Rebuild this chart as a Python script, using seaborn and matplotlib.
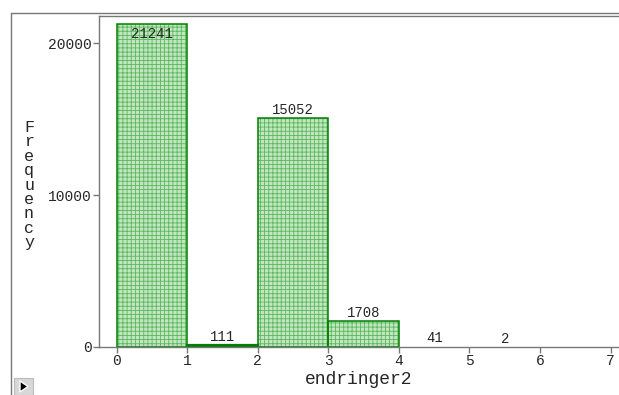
import numpy as np
import pandas as pd
import seaborn as sns
import matplotlib
matplotlib.use("Agg")
from matplotlib import pyplot as plt
from matplotlib.lines import Line2D
from matplotlib.patches import Rectangle, Polygon

# histogram of endringer2 (bin counts)
bin_edges = [0, 1, 2, 3, 4, 5, 6, 7]
bin_counts = [21241, 111, 15052, 1708, 41, 2, 0]
x_ticks = [0, 1, 2, 3, 4, 5, 6, 7]
y_ticks = [0, 10000, 20000]

df = pd.DataFrame({
    "endringer2": [lo + 0.5 for lo in bin_edges[:-1]],
    "count": bin_counts,
})

sns.set_style("white")
plt.rcParams['font.family'] = ['Liberation Mono', 'DejaVu Sans Mono']
plt.rcParams['hatch.linewidth'] = 0.6

fig = plt.figure(figsize=(6.19, 3.95), dpi=100)
ax = fig.add_axes([99/619, 1 - 347/395, 1 - 99/619, (347 - 16)/395])

green = "#008000"
# dotted green fill (hatch drawn in a light green)
sns.histplot(data=df, x="endringer2", weights="count", bins=bin_edges,
             ax=ax, color="#c2e6c2", edgecolor="#5cb85c", linewidth=0,
             alpha=1, hatch="++++")
n_fill = len(ax.patches)
for p in ax.patches[:n_fill]:
    p.set_facecolor("#c2e6c2")
    p.set_edgecolor("#5cb85c")
    if p.get_height() < 100:
        p.set_visible(False)

# dark green outlines on top
sns.histplot(data=df, x="endringer2", weights="count", bins=bin_edges,
             ax=ax, fill=False, color=green, linewidth=1.1)
for p in ax.patches[n_fill:]:
    p.set_edgecolor(green)
    # bars under ~1px vanish into the axis line
    if p.get_height() < 100:
        p.set_visible(False)
    elif p.get_height() < 500:
        p.set_linewidth(1.6)

ax.set_xlim(-0.25, 7.12)
ax.set_ylim(0, 21790)

# count labels on top of bars
for lo, c in zip(bin_edges[:-1], bin_counts):
    if c == 0:
        continue
    if c > 21000:
        ax.text(lo + 0.5, c - 150, str(c), ha="center", va="top", fontsize=10)
    else:
        ax.text(lo + 0.5, c + 80, str(c), ha="center", va="bottom", fontsize=10)

ax.set_xticks(x_ticks)
ax.set_yticks(y_ticks)
ax.tick_params(axis="both", direction="out", length=4, width=1, color="#777777",
               labelsize=10.5, pad=1, bottom=True, left=True)
for side in ["left", "top", "bottom"]:
    ax.spines[side].set_color("#777777")
    ax.spines[side].set_linewidth(1)
ax.spines["right"].set_visible(False)

ax.set_xlabel("endringer2", fontsize=13, labelpad=2)
ax.set_ylabel("")
fig.text(29/619, 1 - 185/395, "\n".join("Frequency"), ha="center", va="center",
         fontsize=12, linespacing=0.95)

# outer panel frame
fig.add_artist(Line2D([11/619, 11/619], [0, 1 - 13/395], color="#777777", lw=1))
fig.add_artist(Line2D([11/619, 1], [1 - 13/395, 1 - 13/395], color="#777777", lw=1))

# small play button
fig.add_artist(Rectangle((14/619, 0), 19/619, 17/395, facecolor="#d8d8d8",
                         edgecolor="#bbbbbb", lw=0.8, transform=fig.transFigure))
fig.add_artist(Polygon([[20/619, 3/395], [20/619, 14/395], [28/619, 8.5/395]],
                       closed=True, facecolor="black", transform=fig.transFigure))

fig.savefig("out.png", dpi=100)
